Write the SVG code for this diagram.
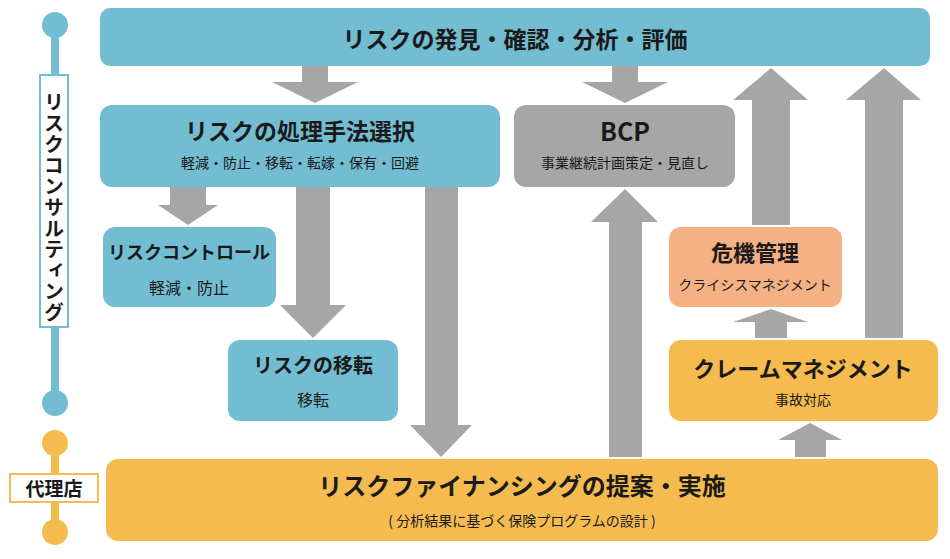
<svg xmlns="http://www.w3.org/2000/svg" width="950" height="559" viewBox="0 0 950 559">
<style>
.b{fill:#73BDD2}.o{fill:#F6BB4F}.s{fill:#F4B183}.g{fill:#A6A6A6}
text{font-family:"Noto Sans CJK JP","Noto Sans",sans-serif;fill:#1a1a1a;text-anchor:middle}
.t{font-weight:bold;font-size:22px}.u{font-size:14px}
</style>
<rect width="950" height="559" fill="#fff"/>
<g id="side">
<line x1="55" y1="25" x2="55" y2="403" stroke="#73BDD2" stroke-width="8"/>
<circle cx="55" cy="25" r="13" fill="#73BDD2"/><circle cx="55" cy="403" r="13" fill="#73BDD2"/>
<rect x="40" y="75" width="28" height="252" fill="#fff" stroke="#73BDD2" stroke-width="2"/>
<text x="54" y="92" style="writing-mode:vertical-rl;font-weight:bold;font-size:20px;text-anchor:start;letter-spacing:1px">リスクコンサルティング</text>
<line x1="55" y1="443" x2="55" y2="532" stroke="#F6BB4F" stroke-width="8"/>
<circle cx="55" cy="443" r="13" fill="#F6BB4F"/><circle cx="55" cy="532" r="13" fill="#F6BB4F"/>
<rect x="10" y="474" width="88" height="28" fill="#fff" stroke="#F6BB4F" stroke-width="2"/>
<text x="54" y="496" style="font-weight:bold;font-size:19px">代理店</text>
</g>
<g id="connectors" class="g">
<polygon points="302,66 328,66 328,82 358,82 315,103 272,82 302,82"/>
<polygon points="612,66 638,66 638,82 668,82 625,103 582,82 612,82"/>
<polygon points="752,225 790,225 790,100 808,100 771,68 733,100 752,100"/>
<polygon points="865,338 903,338 903,100 921,100 884,68 846,100 865,100"/>
<polygon points="170,187 206,187 206,205 218,205 188,225 158,205 170,205"/>
<polygon points="296,187 330,187 330,305 346,305 313,338 280,305 296,305"/>
<polygon points="425,187 458,187 458,425 472,425 441,457 410,425 425,425"/>
<polygon points="609,457 642,457 642,222 658,222 625,189 591,222 609,222"/>
<polygon points="795,457 826,457 826,440 842,440 810,423 778,440 795,440"/>
<polygon points="755,338 787,338 787,322 808,322 771,309 733,322 755,322"/>
</g>
<g id="top"><rect x="100" y="8" width="830" height="58" rx="10" class="b"/><text x="515" y="48" class="t" style="font-size:23px">リスクの発見・確認・分析・評価</text></g>
<g id="shori"><rect x="100" y="105" width="400" height="82" rx="12" class="b"/><text x="300" y="140" class="t" style="font-size:23px">リスクの処理手法選択</text><text x="300" y="168" class="u">軽減・防止・移転・転嫁・保有・回避</text></g>
<g id="bcp"><rect x="514" y="105" width="221" height="82" rx="12" class="g"/><text x="625" y="141" class="t" style="font-size:25px">BCP</text><text x="625" y="168" class="u">事業継続計画策定・見直し</text></g>
<g id="control"><rect x="103" y="227" width="173" height="80" rx="12" class="b"/><text x="189" y="259" class="t" style="font-size:18px">リスクコントロール</text><text x="189" y="294" style="font-size:16px">軽減・防止</text></g>
<g id="iten"><rect x="228" y="340" width="170" height="81" rx="12" class="b"/><text x="313" y="373" class="t" style="font-size:20px">リスクの移転</text><text x="313" y="406" style="font-size:16px">移転</text></g>
<g id="kiki"><rect x="669" y="227" width="173" height="80" rx="12" class="s"/><text x="755" y="261" class="t">危機管理</text><text x="755" y="290" class="u">クライシスマネジメント</text></g>
<g id="claim"><rect x="669" y="340" width="269" height="81" rx="12" class="o"/><text x="803" y="377" class="t">クレームマネジメント</text><text x="803" y="405" class="u">事故対応</text></g>
<g id="bottom"><rect x="106" y="459" width="832" height="82" rx="12" class="o"/><text x="522" y="495" class="t" style="font-size:24px">リスクファイナンシングの提案・実施</text><text x="522" y="526" class="u">( 分析結果に基づく保険プログラムの設計 )</text></g>
</svg>
